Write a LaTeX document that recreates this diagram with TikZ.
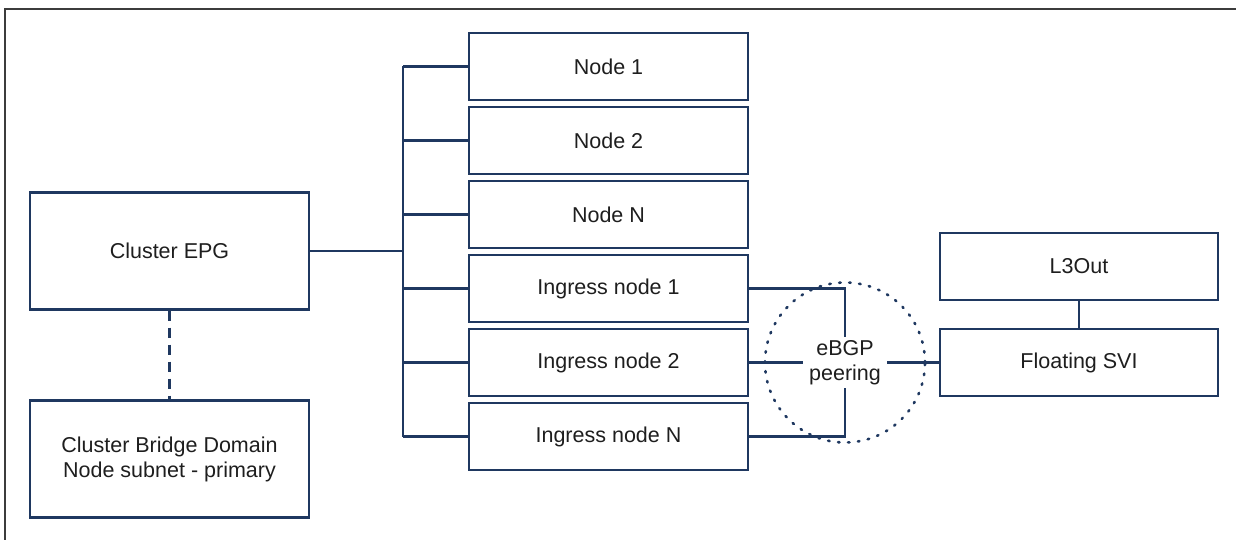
\documentclass[tikz,border=0pt]{standalone}
\usepackage{fontspec}
\setmainfont{Liberation Sans}
\usepackage{xcolor}
\usetikzlibrary{positioning}
\definecolor{linenavy}{RGB}{31,56,96}
\definecolor{framegray}{RGB}{60,60,60}
\definecolor{textdark}{RGB}{30,30,30}

\begin{document}
\begin{tikzpicture}[
    x=1pt, y=-1pt,
    box/.style={rectangle, draw=linenavy, line width=2.4pt, minimum width=279pt,
        minimum height=67pt, align=center, font=\fontsize{21.5}{25}\selectfont,
        text=textdark, inner sep=0pt},
    bigbox/.style={box, minimum height=117pt},
    wire/.style={draw=linenavy, line width=2.4pt},
    dwire/.style={wire, dash pattern=on 10pt off 7pt},
    node distance=4.6pt
]
\useasboundingbox (0,0) rectangle (1236,540);
\draw[framegray, line width=2pt] (4.5,545) -- (4.5,9) -- (1240,9);

% left side
\node[bigbox] (epg) at (169.5,251) {Cluster EPG};
\node[bigbox] (bd) at (169.5,459) {Cluster Bridge Domain\\Node subnet - primary};
\draw[dwire] (epg.south) -- (bd.north);

% node column
\node[box] (n1) at (608.5,66.5) {Node 1};
\node[box, below=of n1] (n2) {Node 2};
\node[box, below=of n2] (nN) {Node N};
\node[box, below=of nN] (in1) {Ingress node 1};
\node[box, below=of in1] (in2) {Ingress node 2};
\node[box, below=of in2] (inN) {Ingress node N};

\coordinate (bus) at (403,0);
\draw[wire] (n1.west -| bus) -- (inN.west -| bus);
\draw[wire] (epg.east) -- (epg.east -| bus);
\foreach \n in {n1,n2,nN,in1,in2,inN}
    \draw[wire] (\n.west -| bus) -- (\n.west);

% right side
\node[box, minimum width=278pt] (l3out) at (1079,266.5) {L3Out};
\node[box, minimum width=278pt, below=26.6pt of l3out] (svi) {Floating SVI};
\draw[wire] (l3out) -- (svi);

% peering
\node[circle, draw=linenavy, line width=2.6pt, line cap=round,
    dash pattern=on 1.5pt off 8.5pt, minimum size=160pt] (ring) at (845,362.5) {};
\node[font=\fontsize{21.5}{25}\selectfont, text=textdark, align=center,
    inner xsep=6pt, inner ysep=3pt] (peer) at (ring) {eBGP\\peering};
\draw[wire] (in1.east) -| (peer.north);
\draw[wire] (inN.east) -| (peer.south);
\draw[wire] (in2.east) -- (in2.east -| peer.west);
\draw[wire] (svi.west -| peer.east) -- (svi.west);
\end{tikzpicture}
\end{document}
